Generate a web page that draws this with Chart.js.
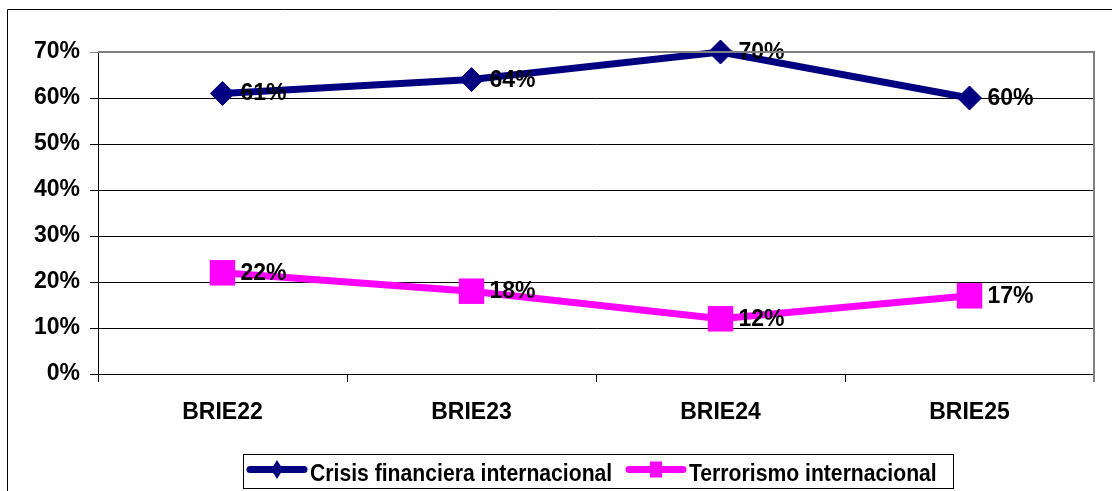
<!DOCTYPE html>
<html>
<head>
<meta charset="utf-8">
<title>BRIE</title>
<script src="https://cdn.jsdelivr.net/npm/chart.js@4/dist/chart.umd.min.js"></script>
<style>
  html, body { margin: 0; padding: 0; background: #fff; }
  #wrap { position: relative; width: 1112px; height: 491px; }
</style>
</head>
<body>
<div id="wrap"><canvas id="chart" width="1112" height="491"></canvas></div>
<script>
// data
const categories = ['BRIE22', 'BRIE23', 'BRIE24', 'BRIE25'];
const seriesNames = ['Crisis financiera internacional', 'Terrorismo internacional'];
const crisisValues = [61, 64, 70, 60];
const terrorValues = [22, 18, 12, 17];
const yTicks = [0, 10, 20, 30, 40, 50, 60, 70];

const FONT = '"Liberation Sans", Arial, sans-serif';
const NAVY = '#000080';
const MAGENTA = '#ff00ff';

// labels right of each point ("61%")
const valueLabels = {
  id: 'valueLabels',
  afterDatasetsDraw(chart) {
    const ctx = chart.ctx;
    ctx.save();
    ctx.font = 'bold 23px ' + FONT;
    ctx.fillStyle = '#000';
    ctx.textAlign = 'left';
    ctx.textBaseline = 'alphabetic';
    chart.data.datasets.forEach((ds, i) => {
      chart.getDatasetMeta(i).data.forEach((pt, j) => {
        ctx.fillText(ds.data[j] + '%', pt.x + 18, pt.y + 7);
      });
    });
    ctx.restore();
  }
};

// outer frame, plot border and the boxed legend
const frame = {
  id: 'frame',
  afterDraw(chart) {
    const ctx = chart.ctx;
    const a = chart.chartArea;
    ctx.save();
    // chart frame (cut off at right and bottom)
    ctx.strokeStyle = '#000';
    ctx.lineWidth = 1;
    ctx.beginPath();
    ctx.moveTo(7.5, 491);
    ctx.lineTo(7.5, 9.5);
    ctx.lineTo(1112, 9.5);
    ctx.stroke();
    // plot area border, top and right
    ctx.strokeStyle = '#808080';
    ctx.lineWidth = 2;
    ctx.beginPath();
    ctx.moveTo(a.left, a.top);
    ctx.lineTo(a.right, a.top);
    ctx.lineTo(a.right, a.bottom + 8);
    ctx.stroke();

    // legend box
    ctx.strokeStyle = '#000';
    ctx.lineWidth = 1;
    ctx.strokeRect(243.5, 454.5, 710, 34);
    const items = [
      { x: 247, color: NAVY, style: 'diamond' },
      { x: 626, color: MAGENTA, style: 'square' }
    ];
    items.forEach((it, i) => {
      ctx.strokeStyle = it.color;
      ctx.fillStyle = it.color;
      ctx.lineWidth = 7;
      ctx.lineCap = 'round';
      ctx.beginPath();
      ctx.moveTo(it.x + 3, 469.5);
      ctx.lineTo(it.x + 57, 469.5);
      ctx.stroke();
      const cx = it.x + 30;
      ctx.beginPath();
      if (it.style === 'diamond') {
        ctx.moveTo(cx, 460);
        ctx.lineTo(cx + 6, 469.5);
        ctx.lineTo(cx, 479);
        ctx.lineTo(cx - 6, 469.5);
      } else {
        ctx.rect(cx - 6, 461.5, 12, 16);
      }
      ctx.closePath();
      ctx.fill();
      ctx.save();
      ctx.translate(it.x + 63, 481);
      ctx.scale(0.92, 1);
      ctx.fillStyle = '#000';
      ctx.font = 'bold 23px ' + FONT;
      ctx.textBaseline = 'alphabetic';
      ctx.fillText(seriesNames[i], 0, 0);
      ctx.restore();
    });
    ctx.restore();
  }
};

new Chart(document.getElementById('chart'), {
  type: 'line',
  data: {
    labels: categories,
    datasets: [
      {
        label: seriesNames[0],
        data: crisisValues,
        borderColor: NAVY,
        backgroundColor: NAVY,
        borderWidth: 7,
        pointStyle: 'rectRot',
        pointRadius: 12,
        pointHoverRadius: 12,
        pointBorderWidth: 1,
        pointBorderColor: NAVY,
        pointBackgroundColor: NAVY,
        tension: 0,
        clip: false
      },
      {
        label: seriesNames[1],
        data: terrorValues,
        borderColor: MAGENTA,
        backgroundColor: MAGENTA,
        borderWidth: 7,
        pointStyle: 'rect',
        pointRadius: 18,
        pointHoverRadius: 18,
        pointBorderWidth: 0,
        pointBackgroundColor: MAGENTA,
        tension: 0,
        clip: false
      }
    ]
  },
  options: {
    responsive: false,
    animation: false,
    events: [],
    layout: { padding: { top: 52, right: 16, left: 0, bottom: 0 } },
    plugins: {
      legend: { display: false },
      tooltip: { enabled: false }
    },
    scales: {
      x: {
        offset: true,
        afterFit: (s) => { s.height = 117; },
        grid: {
          offset: true,
          drawOnChartArea: false,
          drawTicks: true,
          tickLength: 8,
          color: '#000'
        },
        border: { color: '#000', width: 1 },
        ticks: {
          color: '#000',
          padding: 17,
          maxRotation: 0,
          font: { family: FONT, size: 23, weight: 'bold' }
        }
      },
      y: {
        min: yTicks[0],
        max: yTicks[yTicks.length - 1],
        afterFit: (s) => { s.width = 98; },
        afterBuildTicks: (s) => { s.ticks = yTicks.map(v => ({ value: v })); },
        grid: {
          tickLength: 8,
          color: (c) => (c.tick && c.tick.value === yTicks[yTicks.length - 1]) ? '#808080' : '#000'
        },
        border: { color: '#000', width: 1 },
        ticks: {
          color: '#000',
          padding: 10,
          callback: (v) => v + '%',
          font: { family: FONT, size: 23, weight: 'bold' }
        }
      }
    }
  },
  plugins: [valueLabels, frame]
});
</script>
</body>
</html>
